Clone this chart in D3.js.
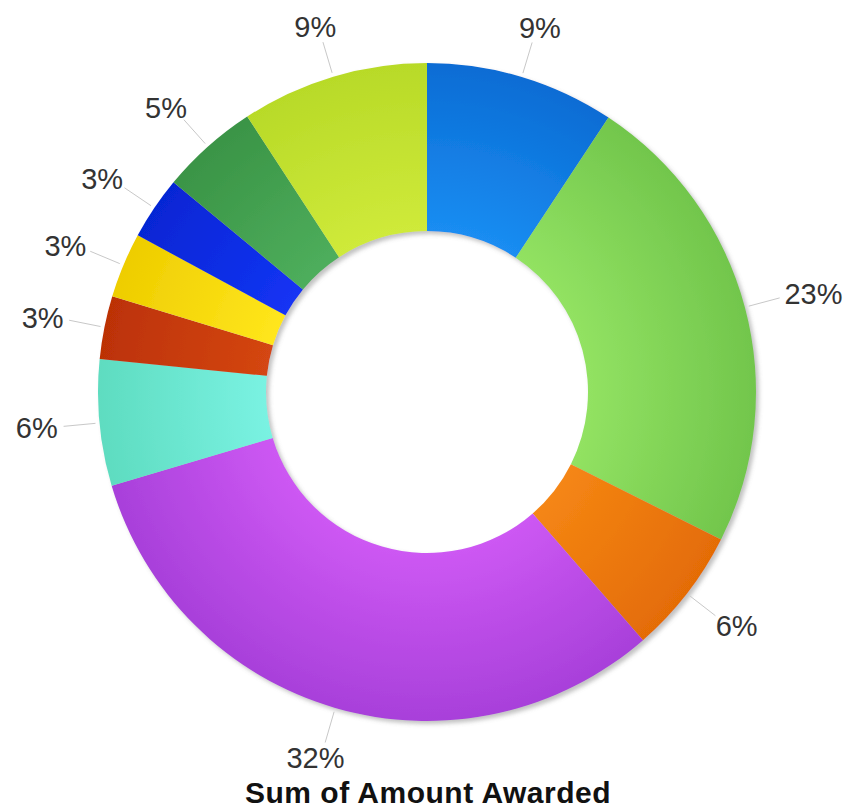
<!DOCTYPE html>
<html>
<head>
<meta charset="utf-8">
<script src="https://cdn.jsdelivr.net/npm/d3@7/dist/d3.min.js"></script>
<style>
  html, body { margin: 0; padding: 0; background: #fff; }
  svg { display: block; }
</style>
</head>
<body>
<svg id="chart" width="850" height="810"></svg>
<script>
// ---- data ----
const categories = ["A", "B", "C", "D", "E", "F", "G", "H", "I", "J"];
const values = [9.3, 23.1, 6.2, 31.8, 6.2, 3.1, 3.2, 3.1, 4.8, 9.2];
const labels = ["9%", "23%", "6%", "32%", "6%", "3%", "3%", "3%", "5%", "9%"];
const innerColors = ["#1a8df2", "#92e262", "#f58614", "#cd58f3", "#7af2e2", "#d44612", "#ffe61c", "#1434f4", "#4eae5c", "#cfea3a"];
const outerColors = ["#0a6cd4", "#72c64c", "#e46c06", "#a840da", "#5edcc0", "#bc3206", "#eecd00", "#0626d4", "#3a9446", "#b8da28"];
const title = "Sum of Amount Awarded";

// ---- layout ----
const cx = 427, cy = 392;
const R = 329, r0 = 161;

const svg = d3.select("#chart");
const defs = svg.append("defs");

const flt = defs.append("filter").attr("id", "shadow")
  .attr("x", "-10%").attr("y", "-10%").attr("width", "120%").attr("height", "120%");
flt.append("feDropShadow").attr("dx", 3).attr("dy", 3).attr("stdDeviation", 2)
  .attr("flood-color", "#777").attr("flood-opacity", 0.45);

categories.forEach((c, i) => {
  const g = defs.append("radialGradient").attr("id", "grad" + i)
    .attr("gradientUnits", "userSpaceOnUse")
    .attr("cx", 0).attr("cy", 0).attr("r", R);
  g.append("stop").attr("offset", r0 / R).attr("stop-color", innerColors[i]);
  g.append("stop").attr("offset", 1).attr("stop-color", outerColors[i]);
});

const pie = d3.pie().sort(null).value(d => d).startAngle(0).endAngle(2 * Math.PI);
const arcs = pie(values);
const arc = d3.arc().innerRadius(r0).outerRadius(R);

const g = svg.append("g").attr("transform", `translate(${cx},${cy})`);

g.append("g").attr("filter", "url(#shadow)")
  .selectAll("path").data(arcs).join("path")
  .attr("d", arc)
  .attr("fill", (d, i) => `url(#grad${i})`);

// leader lines + labels
const lineIn = d3.arc().innerRadius(R + 4).outerRadius(R + 4);
const lineOut = d3.arc().innerRadius(R + 36).outerRadius(R + 36);
const lab = g.append("g");
arcs.forEach((d, i) => {
  const a = (d.startAngle + d.endAngle) / 2;
  const p1 = lineIn.centroid(d), p2 = lineOut.centroid(d);
  lab.append("line")
    .attr("x1", p1[0]).attr("y1", p1[1]).attr("x2", p2[0]).attr("y2", p2[1])
    .attr("stroke", "#c8c8c8").attr("stroke-width", 1);
  const t = lab.append("text")
    .attr("font-family", "'Liberation Sans', Arial, sans-serif")
    .attr("font-size", 29).attr("fill", "#333")
    .attr("text-anchor", "middle").attr("dy", "0.36em")
    .text(labels[i]);
  const w = t.node().getComputedTextLength();
  const s = Math.sin(a), c = -Math.cos(a);
  t.attr("x", p2[0] + s * (w / 2 + 6)).attr("y", p2[1] + c * 16);
});

svg.append("text")
  .attr("x", 428).attr("y", 803)
  .attr("text-anchor", "middle")
  .attr("font-family", "'Liberation Sans', Arial, sans-serif")
  .attr("font-weight", "bold").attr("font-size", 30)
  .attr("letter-spacing", 0.5).attr("fill", "#111")
  .text(title);
</script>
</body>
</html>
